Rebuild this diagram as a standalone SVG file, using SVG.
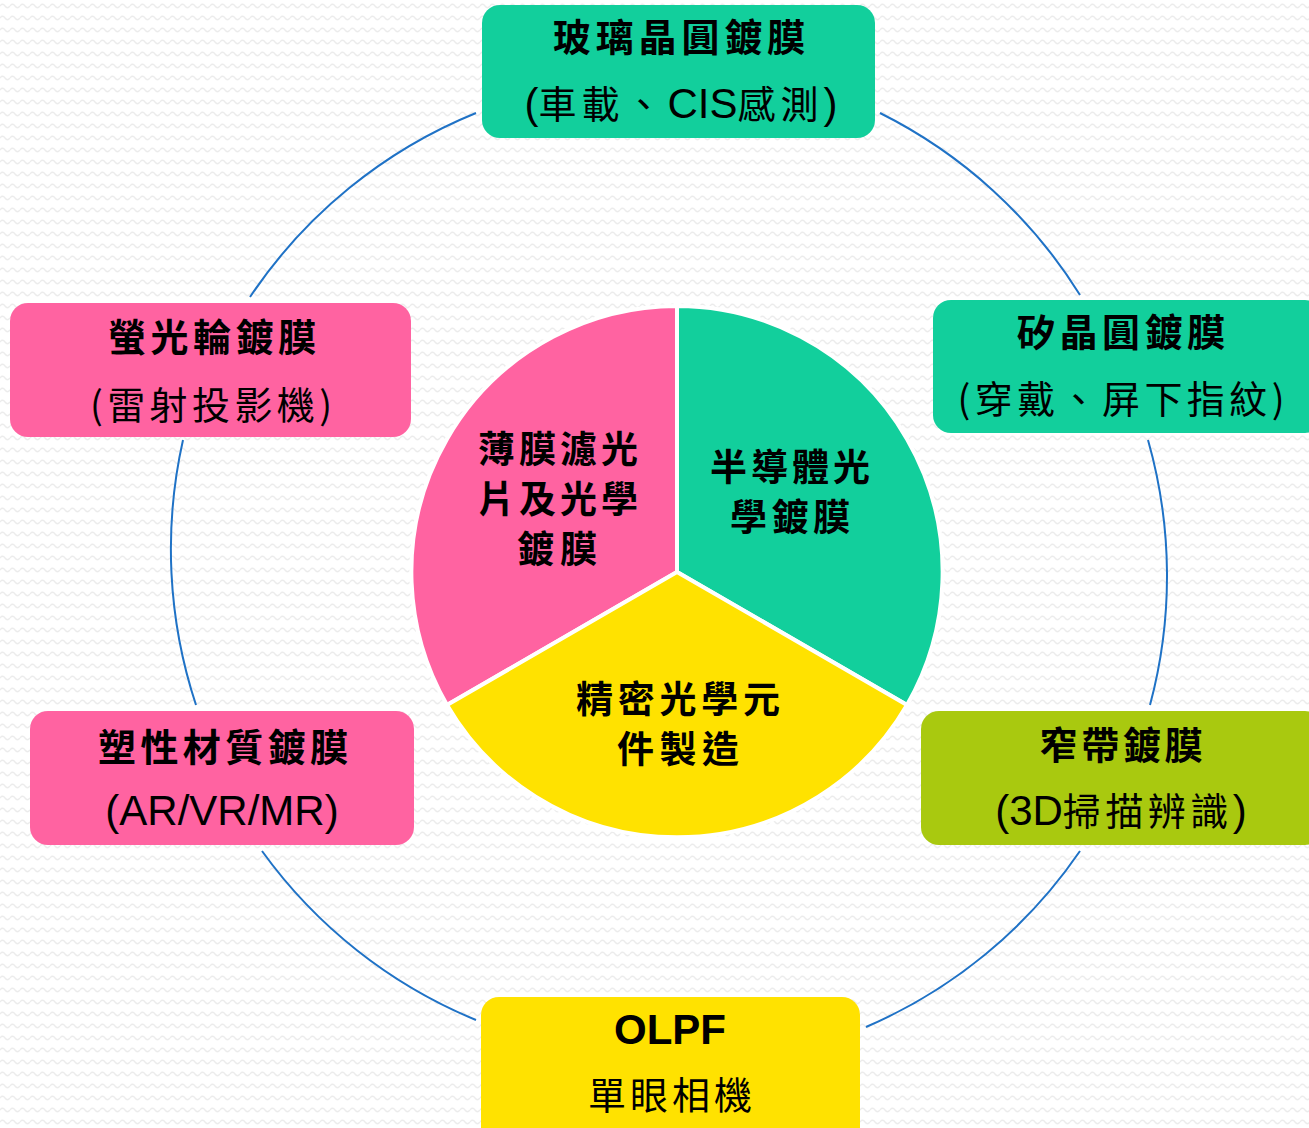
<svg xmlns="http://www.w3.org/2000/svg" width="1309" height="1128" viewBox="0 0 1309 1128">
<defs>
<pattern id="bg" width="10" height="12" patternUnits="userSpaceOnUse">
<rect width="10" height="12" fill="#ffffff"/>
<path d="M0 6 Q2.5 2.5 5 6 T10 6" fill="none" stroke="#ececec" stroke-width="1.3"/>
</pattern>
<style>
.t1{font-family:"Noto Sans CJK TC","Noto Sans CJK SC",sans-serif;font-weight:700;font-size:38px;fill:#000;text-anchor:middle}
.t2{font-family:"Noto Sans CJK TC","Noto Sans CJK SC",sans-serif;font-weight:400;font-size:38px;fill:#000;text-anchor:middle}
.la{font-family:"Liberation Sans",Arial,sans-serif;font-size:42px;letter-spacing:0}
.cj{font-family:"Noto Sans CJK TC","Noto Sans CJK SC",sans-serif;font-size:38px}
.lat{font-family:"Liberation Sans",Arial,sans-serif;font-weight:700;font-size:42px;fill:#000;text-anchor:middle}
.pt{font-family:"Noto Sans CJK TC","Noto Sans CJK SC",sans-serif;font-weight:700;font-size:37px;fill:#000;text-anchor:middle}
.arc{fill:none;stroke:#1f72c6;stroke-width:2}
.teal{fill:#12cf9c}
.pink{fill:#ff63a1}
.yel{fill:#ffe200}
.lime{fill:#a9c90f}
.seg{stroke:#ffffff;stroke-width:4;stroke-linejoin:round}
</style>
</defs>
<rect width="1309" height="1128" fill="url(#bg)"/>
<g id="connectors">
<path class="arc" d="M880 113 A497 497 0 0 1 1080 295"/>
<path class="arc" d="M1148 440 A497 497 0 0 1 1150 705"/>
<path class="arc" d="M1080 851 A497 497 0 0 1 866 1027"/>
<path class="arc" d="M476 1020 A497 497 0 0 1 262 851"/>
<path class="arc" d="M196 705 A497 497 0 0 1 183 440"/>
<path class="arc" d="M250 297 A497 497 0 0 1 476 113"/>
</g>
<g id="pie">
<path class="pink seg" d="M677 572 L677 306 A266 266 0 0 0 447 705 Z"/>
<path class="teal seg" d="M677 572 L677 306 A266 266 0 0 1 907 705 Z"/>
<path class="yel seg" d="M677 572 L907 705 A266 266 0 0 1 447 705 Z"/>
<text class="pt" x="558" y="463" textLength="160" lengthAdjust="spacing">薄膜濾光</text>
<text class="pt" x="558" y="513" textLength="160" lengthAdjust="spacing">片及光學</text>
<text class="pt" x="557" y="563" textLength="80" lengthAdjust="spacing">鍍膜</text>
<text class="pt" x="790" y="481" textLength="160" lengthAdjust="spacing">半導體光</text>
<text class="pt" x="790" y="531" textLength="120" lengthAdjust="spacing">學鍍膜</text>
<text class="pt" x="678" y="713" textLength="204" lengthAdjust="spacing">精密光學元</text>
<text class="pt" x="678" y="763" textLength="122" lengthAdjust="spacing">件製造</text>
</g>
<g id="node-top">
<rect class="teal" x="482" y="5" width="393" height="133" rx="18"/>
<text class="t1" x="679" y="51" textLength="252" lengthAdjust="spacing">玻璃晶圓鍍膜</text>
<text class="t2" x="681" y="118"><tspan class="la">(</tspan><tspan class="cj" letter-spacing="5">車載、</tspan><tspan class="la">CIS</tspan><tspan class="cj" letter-spacing="5">感測</tspan><tspan class="la">)</tspan></text>
</g>
<g id="node-right-top">
<rect class="teal" x="933" y="300" width="390" height="133" rx="18"/>
<text class="t1" x="1121" y="346" textLength="208" lengthAdjust="spacing">矽晶圓鍍膜</text>
<text class="t2" x="1121" y="413" textLength="327" lengthAdjust="spacing">(穿戴、屏下指紋)</text>
</g>
<g id="node-left-top">
<rect class="pink" x="10" y="303" width="401" height="134" rx="18"/>
<text class="t1" x="212" y="351" textLength="208" lengthAdjust="spacing">螢光輪鍍膜</text>
<text class="t2" x="211" y="419" textLength="242" lengthAdjust="spacing">(雷射投影機)</text>
</g>
<g id="node-left-bottom">
<rect class="pink" x="30" y="711" width="384" height="134" rx="18"/>
<text class="t1" x="223" y="761" textLength="250" lengthAdjust="spacing">塑性材質鍍膜</text>
<text class="t2" x="222" y="825"><tspan class="la">(AR/VR/MR)</tspan></text>
</g>
<g id="node-right-bottom">
<rect class="lime" x="921" y="711" width="402" height="134" rx="18"/>
<text class="t1" x="1121" y="759" textLength="163" lengthAdjust="spacing">窄帶鍍膜</text>
<text class="t2" x="1121" y="825"><tspan class="la">(3D</tspan><tspan class="cj" letter-spacing="4.5">掃描辨識</tspan><tspan class="la">)</tspan></text>
</g>
<g id="node-bottom">
<rect class="yel" x="481" y="997" width="379" height="150" rx="18"/>
<text class="lat" x="670" y="1044">OLPF</text>
<text class="t2" x="670" y="1109" textLength="164" lengthAdjust="spacing">單眼相機</text>
</g>
</svg>
